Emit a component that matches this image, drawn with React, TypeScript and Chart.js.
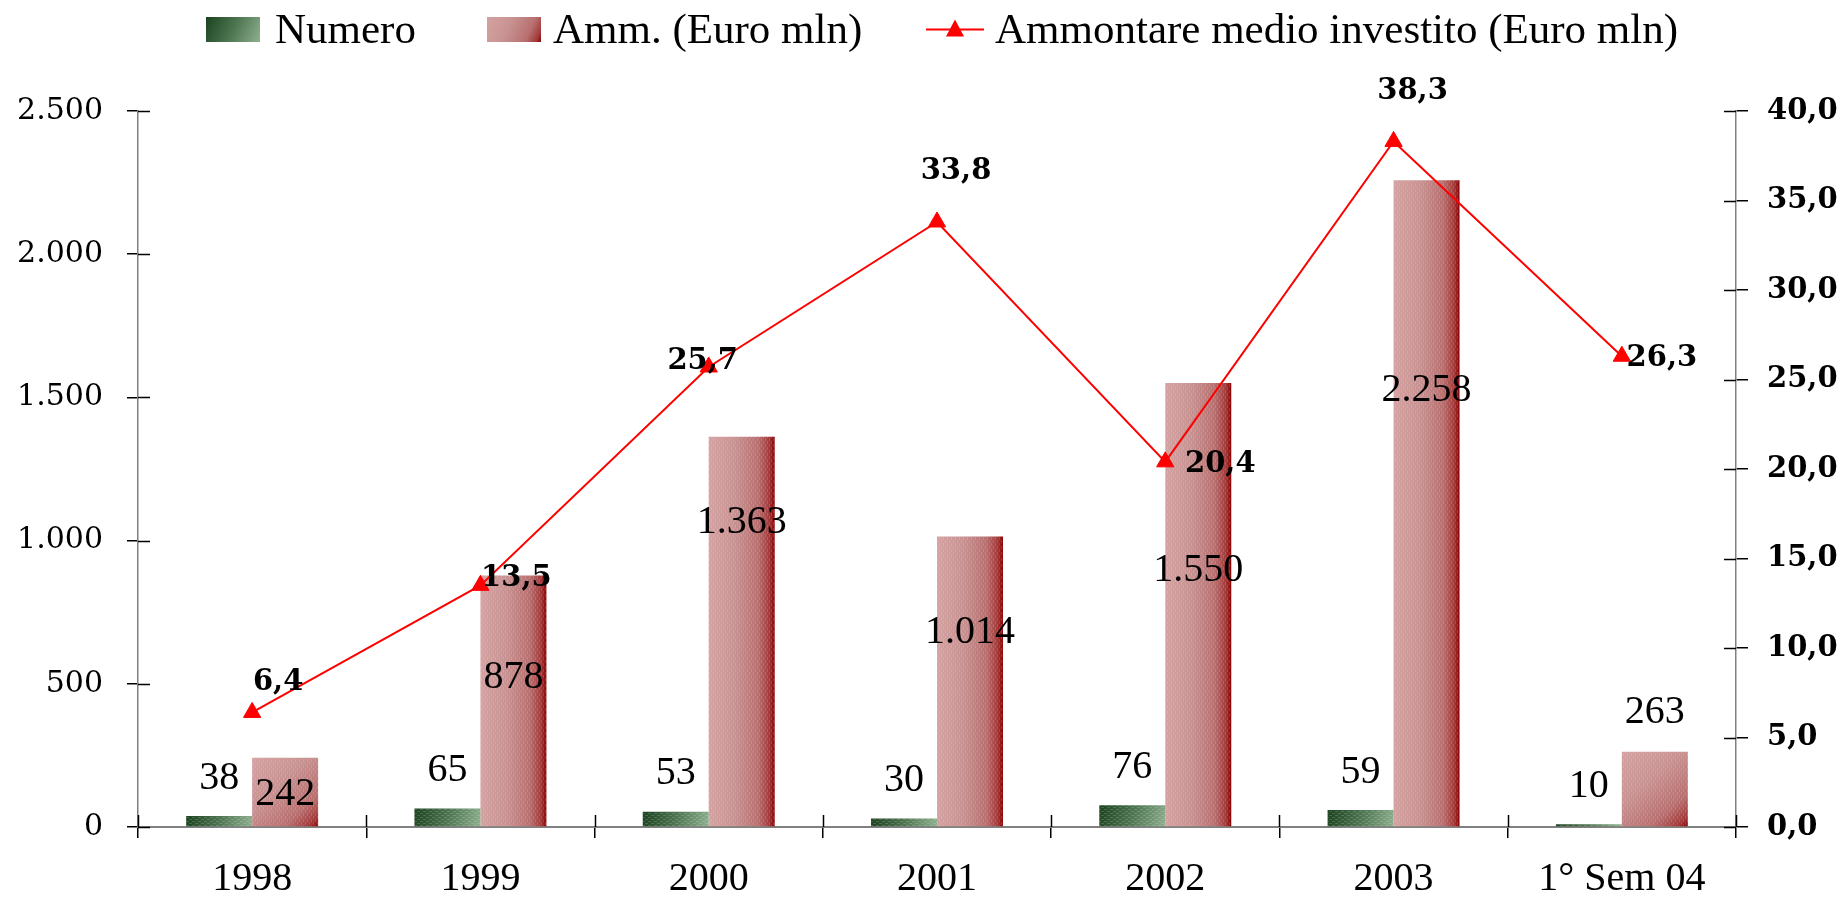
import React, { useEffect, useRef } from 'react';
import { Chart, registerables } from 'chart.js';

Chart.register(...registerables);

// ---------- data ----------
const categories = ['1998', '1999', '2000', '2001', '2002', '2003', '1° Sem 04'];
const numero = [38, 65, 53, 30, 76, 59, 10];
const ammontare = [242, 878, 1363, 1014, 1550, 2258, 263];
const ammontareMedio = [6.4, 13.5, 25.7, 33.8, 20.4, 38.3, 26.3];
const seriesNames = ['Numero', 'Amm. (Euro mln)', 'Ammontare medio investito (Euro mln)'];
const leftAxisMax = 2500;
const leftAxisStep = 500;
const rightAxisMax = 40;
const rightAxisStep = 5;

// ---------- label placement (style, px) ----------
const ammLabelDy = [37, 102, 86, 96, 187, 210, -39];
const medioLabelDx = [26, 36, -6, 19, 55, 19, 40];
const medioLabelDy = [-30, -7, -6, -51, 3, -50, 2];
const numeroLabelDy = -38;

const CAT_PCT = 0.578;

const fmtThousands = (v: number) => {
  const s = Math.round(v).toString();
  return s.replace(/\B(?=(\d{3})+(?!\d))/g, '.');
};
const fmtDecimal = (v: number) => v.toFixed(1).replace('.', ',');

function barRect(chart: any, datasetIndex: number, i: number, value: number) {
  const area = chart.chartArea;
  const xs = chart.scales.x;
  const ys = chart.scales.y;
  const cat = xs.getPixelForValue(i);
  const catW = area.width / categories.length;
  const bw = (catW * CAT_PCT) / 2;
  const x0 = datasetIndex === 0 ? cat - bw : cat;
  return { x0, x1: x0 + bw, yTop: ys.getPixelForValue(value), yBase: ys.getPixelForValue(0) };
}

function greenGrad(c: CanvasRenderingContext2D, x0: number, y0: number, x1: number, y1: number) {
  const g = c.createLinearGradient(x0, y0, x1, y1);
  g.addColorStop(0, '#1c4220');
  g.addColorStop(0.5, '#4d7550');
  g.addColorStop(1, '#8fb08f');
  return g;
}
function pinkGrad(c: CanvasRenderingContext2D, x0: number, y0: number, x1: number, y1: number) {
  const g = c.createLinearGradient(x0, y0, x1, y1);
  g.addColorStop(0, '#d4a2a2');
  g.addColorStop(0.4, '#c89292');
  g.addColorStop(0.75, '#b87070');
  g.addColorStop(0.92, '#a33a3a');
  g.addColorStop(1, '#8b0000');
  return g;
}

function barBg(datasetIndex: number) {
  return (ctx: any) => {
    const chart = ctx.chart;
    if (!chart.chartArea || ctx.type !== 'data') return datasetIndex === 0 ? '#4d7550' : '#c99494';
    const r = barRect(chart, datasetIndex, ctx.dataIndex, ctx.raw);
    const c = chart.ctx;
    if (datasetIndex === 0) return greenGrad(c, r.x0, r.yTop, r.x1, r.yBase);
    const h = r.yBase - r.yTop;
    if (h < 120) return pinkGrad(c, r.x0, r.yTop, r.x1, r.yBase);
    return pinkGrad(c, r.x0, r.yTop, r.x1, r.yTop);
  };
}

function makeTexture(c: CanvasRenderingContext2D, kind: number) {
  const t = document.createElement('canvas');
  if (kind === 0) {
    t.width = 6;
    t.height = 4;
    const g = t.getContext('2d')!;
    g.fillStyle = 'rgba(255,255,255,0.16)';
    g.fillRect(0, 1, 3, 1);
    g.fillRect(3, 3, 3, 1);
  } else {
    t.width = 4;
    t.height = 6;
    const g = t.getContext('2d')!;
    g.fillStyle = 'rgba(255,255,255,0.14)';
    g.fillRect(1, 0, 1, 3);
    g.fillRect(3, 3, 1, 3);
  }
  return c.createPattern(t, 'repeat');
}

const texturePlugin = {
  id: 'barTexture',
  afterDatasetDraw(chart: any, args: any) {
    if (args.index > 1) return;
    const c = chart.ctx;
    const pat = makeTexture(c, args.index);
    if (!pat) return;
    c.save();
    c.fillStyle = pat;
    args.meta.data.forEach((el: any) => {
      const p = el.getProps(['x', 'y', 'base', 'width'], true);
      c.fillRect(p.x - p.width / 2, Math.min(p.y, p.base), p.width, Math.abs(p.base - p.y));
    });
    c.restore();
  },
};

const innerTicksPlugin = {
  id: 'innerTicks',
  afterDraw(chart: any) {
    const c = chart.ctx;
    const area = chart.chartArea;
    const { x, y, y1 } = chart.scales;
    c.save();
    c.strokeStyle = '#000';
    c.lineWidth = 1.5;
    c.beginPath();
    y.ticks.forEach((_t: any, i: number) => {
      const py = Math.round(y.getPixelForTick(i)) + 0.5;
      c.moveTo(area.left, py);
      c.lineTo(area.left + 12, py);
    });
    y1.ticks.forEach((_t: any, i: number) => {
      const py = Math.round(y1.getPixelForTick(i)) + 0.5;
      c.moveTo(area.right - 12, py);
      c.lineTo(area.right, py);
    });
    for (let i = 0; i <= categories.length; i++) {
      const px = Math.round(x.getPixelForValue(i - 0.5)) + 0.5;
      c.moveTo(px, area.bottom - 12);
      c.lineTo(px, area.bottom);
    }
    c.stroke();
    c.restore();
  },
};

const labelsPlugin = {
  id: 'valueLabels',
  afterDatasetsDraw(chart: any) {
    const c = chart.ctx;
    c.save();
    c.fillStyle = '#000';
    c.textAlign = 'center';
    c.textBaseline = 'middle';
    const m0 = chart.getDatasetMeta(0);
    const m1 = chart.getDatasetMeta(1);
    const m2 = chart.getDatasetMeta(2);
    c.font = '40px "Liberation Serif"';
    m0.data.forEach((el: any, i: number) => {
      c.fillText(fmtThousands(numero[i]), el.x, el.y + numeroLabelDy);
    });
    m1.data.forEach((el: any, i: number) => {
      c.fillText(fmtThousands(ammontare[i]), el.x, el.y + ammLabelDy[i]);
    });
    c.font = 'bold 29px "DejaVu Serif"';
    m2.data.forEach((el: any, i: number) => {
      c.fillText(fmtDecimal(ammontareMedio[i]), el.x + medioLabelDx[i], el.y + medioLabelDy[i]);
    });
    c.restore();
  },
};

const legendPlugin = {
  id: 'customLegend',
  afterDraw(chart: any) {
    const c = chart.ctx;
    c.save();
    const boxY = 17;
    const boxH = 25;
    const baseline = 43;
    c.font = '43px "Liberation Serif"';
    c.fillStyle = '#000';
    c.textAlign = 'left';
    c.textBaseline = 'alphabetic';
    // item 1
    c.fillStyle = greenGrad(c, 206, boxY, 260, boxY + boxH);
    c.fillRect(206, boxY, 54, boxH);
    c.fillStyle = '#000';
    c.fillText(seriesNames[0], 275, baseline);
    // item 2
    c.fillStyle = pinkGrad(c, 487, boxY, 541, boxY + boxH);
    c.fillRect(487, boxY, 54, boxH);
    c.fillStyle = '#000';
    c.fillText(seriesNames[1], 553, baseline);
    // item 3
    const ly = boxY + boxH / 2;
    c.strokeStyle = '#ff0000';
    c.lineWidth = 2;
    c.beginPath();
    c.moveTo(926, ly);
    c.lineTo(984, ly);
    c.stroke();
    c.fillStyle = '#ff0000';
    c.beginPath();
    c.moveTo(955, ly - 10);
    c.lineTo(964, ly + 7);
    c.lineTo(946, ly + 7);
    c.closePath();
    c.fill();
    c.fillStyle = '#000';
    c.fillText(seriesNames[2], 995, baseline);
    c.restore();
  },
};

export default function App() {
  const ref = useRef<HTMLCanvasElement>(null);
  useEffect(() => {
    document.body.style.margin = '0';
    const canvas = ref.current;
    if (!canvas) return;
    const chart = new Chart(canvas, {
      type: 'bar',
      data: {
        labels: categories,
        datasets: [
          {
            type: 'bar',
            label: seriesNames[0],
            data: numero,
            yAxisID: 'y',
            backgroundColor: barBg(0),
            borderWidth: 0,
            categoryPercentage: CAT_PCT,
            barPercentage: 1,
            order: 1,
          },
          {
            type: 'bar',
            label: seriesNames[1],
            data: ammontare,
            yAxisID: 'y',
            backgroundColor: barBg(1),
            borderWidth: 0,
            categoryPercentage: CAT_PCT,
            barPercentage: 1,
            order: 1,
          },
          {
            type: 'line',
            label: seriesNames[2],
            data: ammontareMedio,
            yAxisID: 'y1',
            borderColor: '#ff0000',
            borderWidth: 2,
            pointStyle: 'triangle',
            pointRadius: 10,
            pointBackgroundColor: '#ff0000',
            pointBorderColor: '#ff0000',
            pointBorderWidth: 1,
            tension: 0,
            order: 0,
          } as any,
        ],
      },
      options: {
        responsive: false,
        animation: false,
        devicePixelRatio: 1,
        layout: { padding: { top: 111, left: 0, right: 0, bottom: 0 } },
        plugins: { legend: { display: false }, tooltip: { enabled: false } },
        scales: {
          x: {
            offset: true,
            grid: { display: true, drawOnChartArea: false, offset: true, tickLength: 11, color: '#000', lineWidth: 1.5 },
            border: { display: true, color: '#808080', width: 2 },
            ticks: {
              font: { family: 'Liberation Serif', size: 40 },
              color: '#000',
              padding: 17,
              maxRotation: 0,
              autoSkip: false,
            },
            afterFit: (s: any) => {
              s.height = 78;
            },
          },
          y: {
            position: 'left',
            min: 0,
            max: leftAxisMax,
            ticks: {
              stepSize: leftAxisStep,
              callback: (v: any) => fmtThousands(Number(v)),
              font: { family: 'DejaVu Serif', size: 30 },
              color: '#000',
              padding: 24,
            },
            grid: { drawOnChartArea: false, tickLength: 11, color: '#000', lineWidth: 1.5 },
            border: { display: true, color: '#808080', width: 1.5 },
            afterFit: (s: any) => {
              s.width = 138;
            },
          },
          y1: {
            position: 'right',
            min: 0,
            max: rightAxisMax,
            ticks: {
              stepSize: rightAxisStep,
              callback: (v: any) => fmtDecimal(Number(v)),
              font: { family: 'DejaVu Serif', size: 29, weight: 'bold' },
              color: '#000',
              padding: 19,
            },
            grid: { drawOnChartArea: false, tickLength: 12, color: '#000', lineWidth: 1.5 },
            border: { display: true, color: '#808080', width: 1.5 },
            afterFit: (s: any) => {
              s.width = 106;
            },
          },
        },
      } as any,
      plugins: [texturePlugin, innerTicksPlugin, labelsPlugin, legendPlugin],
    });
    return () => chart.destroy();
  }, []);
  return (
    <div style={{ width: 1842, height: 905 }}>
      <canvas ref={ref} width={1842} height={905} style={{ display: 'block' }} />
    </div>
  );
}
